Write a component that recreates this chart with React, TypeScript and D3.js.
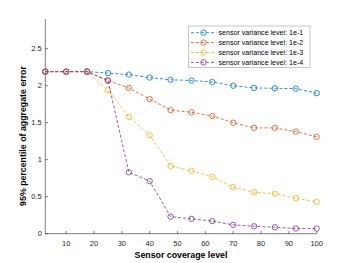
import { useEffect, useRef } from 'react';
import * as d3 from 'd3';

const coverage = [2.5, 10, 17.5, 25, 32.5, 40, 47.5, 55, 62.5, 70, 77.5, 85, 92.5, 100];
const var1e1 = [2.19, 2.19, 2.19, 2.17, 2.15, 2.11, 2.08, 2.07, 2.05, 2.0, 1.97, 1.965, 1.96, 1.9];
const var1e2 = [2.19, 2.19, 2.19, 2.07, 1.97, 1.82, 1.67, 1.64, 1.59, 1.5, 1.43, 1.43, 1.38, 1.31];
const var1e3 = [2.19, 2.19, 2.19, 1.94, 1.58, 1.33, 0.915, 0.85, 0.77, 0.63, 0.56, 0.54, 0.48, 0.43];
const var1e4 = [2.19, 2.19, 2.19, 2.07, 0.83, 0.71, 0.23, 0.2, 0.17, 0.12, 0.1, 0.087, 0.07, 0.07];
const seriesNames = [
    'sensor variance level: 1e-1',
    'sensor variance level: 1e-2',
    'sensor variance level: 1e-3',
    'sensor variance level: 1e-4',
];
const colors = ['#0072BD', '#D95319', '#EDB120', '#7E2F8E'];
const xTicks = [10, 20, 30, 40, 50, 60, 70, 80, 90, 100];
const yTicks = [0, 0.5, 1, 1.5, 2, 2.5];

export default function App() {
    const svgRef = useRef<SVGSVGElement>(null);
    const width = 350;
    const height = 263;

    useEffect(() => {
        if (!svgRef.current) return;
        const svg = d3.select(svgRef.current);
        svg.selectAll('*').remove();

        const font = 'Liberation Sans, Arial, sans-serif';
        const axisColor = '#262626';
        const x = d3.scaleLinear().domain([2.5, 100]).range([45.3, 316.7]);
        const y = d3.scaleLinear().domain([0, 2.9]).range([233.7, 19.1]);

        // Axes lines
        svg.append('line')
            .attr('x1', x(2.5)).attr('x2', x(100))
            .attr('y1', y(0)).attr('y2', y(0))
            .attr('stroke', axisColor).attr('stroke-width', 0.6);
        svg.append('line')
            .attr('x1', x(2.5)).attr('x2', x(2.5))
            .attr('y1', y(0)).attr('y2', y(2.9))
            .attr('stroke', axisColor).attr('stroke-width', 0.6);

        // X ticks (inward)
        xTicks.forEach(t => {
            svg.append('line')
                .attr('x1', x(t)).attr('x2', x(t))
                .attr('y1', y(0)).attr('y2', y(0) - 2.7)
                .attr('stroke', axisColor).attr('stroke-width', 0.6);
            svg.append('text')
                .attr('x', x(t)).attr('y', 246)
                .attr('text-anchor', 'middle')
                .attr('font-family', font).attr('font-size', 7.5)
                .attr('fill', axisColor)
                .text(t);
        });

        // Y ticks (inward)
        yTicks.forEach(t => {
            svg.append('line')
                .attr('x1', x(2.5)).attr('x2', x(2.5) + 2.7)
                .attr('y1', y(t)).attr('y2', y(t))
                .attr('stroke', axisColor).attr('stroke-width', 0.6);
            svg.append('text')
                .attr('x', x(2.5) - 3.5).attr('y', y(t) + 2.7)
                .attr('text-anchor', 'end')
                .attr('font-family', font).attr('font-size', 7.5)
                .attr('fill', axisColor)
                .text(String(t));
        });

        // Axis labels
        svg.append('text')
            .attr('x', 181).attr('y', 258)
            .attr('text-anchor', 'middle')
            .attr('font-family', font).attr('font-size', 8.8).attr('font-weight', 'bold')
            .attr('fill', '#000')
            .text('Sensor coverage level');
        svg.append('text')
            .attr('transform', `translate(25.5,136) rotate(-90)`)
            .attr('text-anchor', 'middle')
            .attr('font-family', font).attr('font-size', 8.8).attr('font-weight', 'bold')
            .attr('fill', '#000')
            .text('95% percentile of aggregate error');

        const allSeries = [var1e1, var1e2, var1e3, var1e4];
        const line = d3.line<number>()
            .x((_d, i) => x(coverage[i]))
            .y(d => y(d));

        allSeries.forEach((vals, si) => {
            const g = svg.append('g');
            g.append('path')
                .attr('d', line(vals))
                .attr('fill', 'none')
                .attr('stroke', colors[si])
                .attr('stroke-width', 0.8)
                .attr('stroke-dasharray', '3,2');
            g.selectAll('circle')
                .data(vals)
                .enter().append('circle')
                .attr('cx', (_d, i) => x(coverage[i]))
                .attr('cy', d => y(d))
                .attr('r', 2.7)
                .attr('fill', 'none')
                .attr('stroke', colors[si])
                .attr('stroke-width', 0.8);
        });

        // Legend
        const lg = svg.append('g');
        lg.append('rect')
            .attr('x', 188.5).attr('y', 26)
            .attr('width', 121.5).attr('height', 41.5)
            .attr('fill', '#fff')
            .attr('stroke', '#a0a0a0').attr('stroke-width', 0.6);
        seriesNames.forEach((name, i) => {
            const ly = 32.7 + i * 9.9;
            lg.append('line')
                .attr('x1', 191).attr('x2', 216.5)
                .attr('y1', ly).attr('y2', ly)
                .attr('stroke', colors[i]).attr('stroke-width', 0.8)
                .attr('stroke-dasharray', '3,2');
            lg.append('circle')
                .attr('cx', 203.5).attr('cy', ly).attr('r', 2.7)
                .attr('fill', 'none')
                .attr('stroke', colors[i]).attr('stroke-width', 0.8);
            lg.append('text')
                .attr('x', 218.5).attr('y', ly + 2.5)
                .attr('font-family', font).attr('font-size', 7.1)
                .attr('fill', '#000')
                .text(name);
        });
    }, []);

    return (
        <svg
            ref={svgRef}
            width={width}
            height={height}
            style={{ position: 'absolute', left: 0, top: 0, background: '#fff', display: 'block' }}
        />
    );
}
